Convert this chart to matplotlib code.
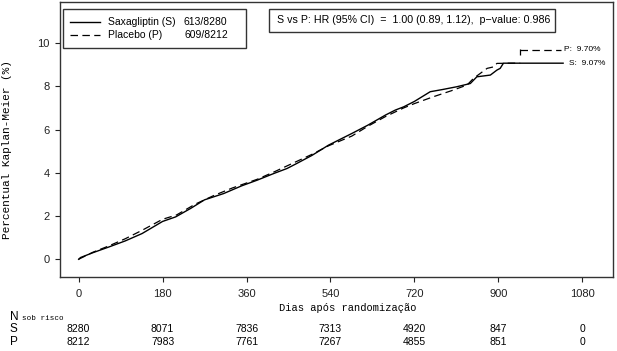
import numpy as np
import matplotlib.pyplot as plt
from matplotlib.patches import Rectangle

# curve values (days, cumulative %)
s_days = [0, 4, 30, 65, 100, 136, 180, 208, 240, 270, 311, 350, 383, 420, 447,
          465, 500, 536, 586, 620, 658, 679, 697, 720, 754, 780, 811, 840, 854,
          883, 897, 904, 911, 1039]
s_pct = [0, 0.08, 0.3, 0.57, 0.85, 1.19, 1.75, 1.96, 2.35, 2.75, 3.04, 3.4, 3.66,
         3.98, 4.2, 4.4, 4.8, 5.28, 5.82, 6.2, 6.67, 6.9, 7.05, 7.3, 7.75, 7.85,
         7.98, 8.13, 8.44, 8.52, 8.75, 8.83, 9.07, 9.07]
p_days = [0, 30, 65, 100, 136, 180, 210, 250, 290, 330, 383, 420, 465, 500, 536,
          586, 620, 658, 697, 720, 761, 800, 833, 847, 876, 890, 897, 929, 947]
p_pct = [0, 0.32, 0.62, 0.95, 1.34, 1.85, 2.05, 2.55, 2.95, 3.3, 3.7, 4.05, 4.5,
         4.85, 5.25, 5.7, 6.15, 6.6, 7.0, 7.2, 7.52, 7.8, 8.06, 8.37, 8.83, 8.9,
         9.06, 9.07, 9.07]
p_end_days = [947, 1035]
p_end_pct = [9.70, 9.70]

xticks = [0, 180, 360, 540, 720, 900, 1080]
yticks = [0, 2, 4, 6, 8, 10]
risk_s = [8280, 8071, 7836, 7313, 4920, 847, 0]
risk_p = [8212, 7983, 7761, 7267, 4855, 851, 0]

sans = 'Liberation Sans'
mono = 'Liberation Mono'

fig = plt.figure(figsize=(6.17, 3.51), dpi=100)
ax = fig.add_axes([60/617, 1-277/351, 553/617, 275/351])

ax.plot(s_days, s_pct, color='black', lw=1.0)
ax.plot(p_days, p_pct, color='black', lw=0.9, dashes=(6, 3.5))
ax.plot(p_end_days, p_end_pct, color='black', lw=0.9, dashes=(6, 3.5))
ax.plot(p_end_days[:1], [p_end_pct[0] - 0.12], marker='|', ms=5, mew=0.9, color='black')

ax.set_xlim(-40, 1146)
ax.set_ylim(-0.82, 11.9)
ax.set_xticks(xticks)
ax.set_yticks(yticks)
ax.tick_params(direction='out', length=3.5, width=0.8, labelsize=8, colors='#222222')
ax.tick_params(axis='x', pad=5)
ax.tick_params(axis='y', pad=4)
for lab in ax.get_xticklabels() + ax.get_yticklabels():
    lab.set_family(sans)
for sp in ax.spines.values():
    sp.set_linewidth(1.0)
    sp.set_color('#333333')

fig.text(7/617, 1-150/351, 'Percentual Kaplan-Meier (%)', family=mono, fontsize=8,
         rotation=90, ha='center', va='center')
ax.set_xlabel('Dias após randomização', family=mono, fontsize=7.5)
ax.xaxis.set_label_coords(0.52, -0.095)

# end-of-curve labels
ax.text(1040, 9.70, 'P:  9.70%', family=sans, fontsize=6, va='center')
ax.text(1052, 9.07, 'S:  9.07%', family=sans, fontsize=6, va='center')

# legend box drawn by hand
def fx(px):
    return px / 617

def fy(py):
    return 1 - py / 351

fig.patches.append(Rectangle((fx(63), fy(48)), fx(183), 39/351, transform=fig.transFigure,
                             fill=False, lw=1.0, ec='#333333'))
fig.add_artist(plt.Line2D([fx(70), fx(100)], [fy(22), fy(22)], color='black', lw=1.0))
fig.add_artist(plt.Line2D([fx(70), fx(100)], [fy(35), fy(35)], color='black', lw=0.9,
                          dashes=(6, 3.5)))
fig.text(fx(108), fy(22), 'Saxagliptin (S)', family=sans, fontsize=7.5, va='center')
fig.text(fx(108), fy(35), 'Placebo (P)', family=sans, fontsize=7.5, va='center')
fig.text(fx(227), fy(22), '613/8280', family=sans, fontsize=7.5, va='center', ha='right')
fig.text(fx(228), fy(35), '609/8212', family=sans, fontsize=7.5, va='center', ha='right')

fig.patches.append(Rectangle((fx(269), fy(32)), fx(286), 23/351, transform=fig.transFigure,
                             fill=False, lw=1.0, ec='#333333'))
fig.text(fx(277), fy(20), 'S vs P: HR (95% CI)  =  1.00 (0.89, 1.12),  p\u2212value: 0.986',
         family=sans, fontsize=7.7, va='center')

# number at risk table
fig.text(fx(10), fy(317), 'N', family=sans, fontsize=8.5, va='center')
fig.text(fx(22), fy(318), 'sob risco', family=mono, fontsize=5.5, va='center')
fig.text(fx(10), fy(329), 'S', family=sans, fontsize=8.5, va='center')
fig.text(fx(10), fy(342), 'P', family=sans, fontsize=8.5, va='center')
for t, ns, npl in zip(xticks, risk_s, risk_p):
    xf = ax.transData.transform((t, 0))[0]
    xfig = fig.transFigure.inverted().transform((xf, 0))[0]
    fig.text(xfig, fy(329), str(ns), family=sans, fontsize=7.5, va='center', ha='center')
    fig.text(xfig, fy(342), str(npl), family=sans, fontsize=7.5, va='center', ha='center')

fig.savefig('out.png', dpi=100)
